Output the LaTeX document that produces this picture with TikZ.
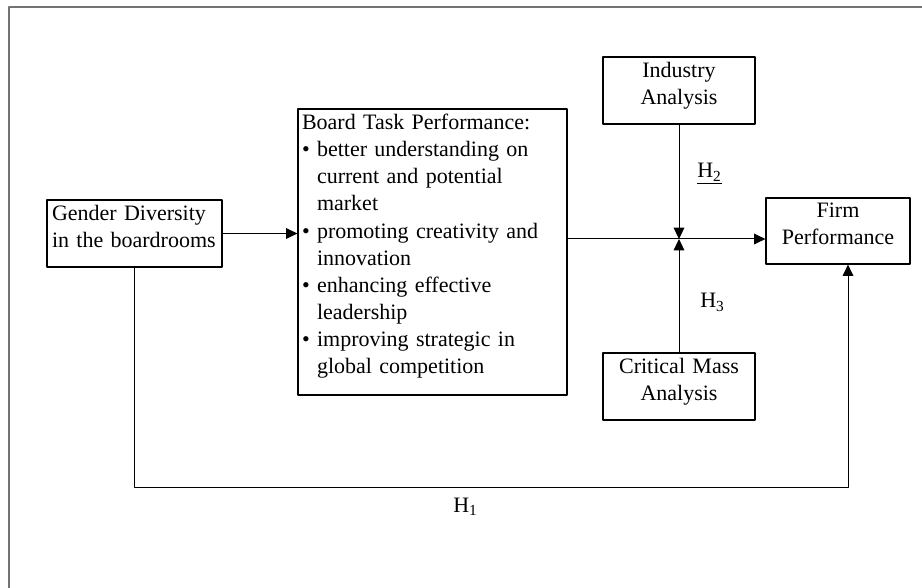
\documentclass[tikz,border=0pt]{standalone}
\usepackage{fontspec}
\setmainfont{Liberation Serif}
\usetikzlibrary{arrows.meta}
\newcommand{\bp}{\textbullet\ }
\newcommand{\bpind}{\hphantom{\textbullet\ }}

\begin{document}
\begin{tikzpicture}[line join=round,>={Triangle[length=8.5pt,width=8pt]},x=0.75pt,y=-0.75pt]
		\tikzset{every node/.style={font=\fontsize{16.5}{20.3}\selectfont},
			box/.style={draw,line width=0.9pt,inner xsep=3.75pt,inner ysep=3pt,text depth=31pt},
			link/.style={line width=0.75pt},
			hlabel/.style={anchor=base west,inner sep=0pt}}
		\useasboundingbox (0,0) rectangle (922,588);
		\draw[black!55,line width=1.5pt] (9,600)--(9,7)--(930,7);
		%Các khối
		\node[box,align=left,text width=123.75pt,minimum height=50.25pt] (gender) at (134.5,233.5) {Gender Diversity\\in the boardrooms};
		\node[box,align=left,text width=195.75pt,inner xsep=3pt,minimum height=214.5pt,text depth=195pt] (board) at (432.5,252) {Board Task Performance:\\
			\bp better understanding on\\ \bpind current and potential\\ \bpind market\\
			\bp promoting creativity and\\ \bpind innovation\\
			\bp enhancing effective\\ \bpind leadership\\
			\bp improving strategic in\\ \bpind global competition};
		\node[box,align=center,text width=106.5pt,minimum height=50.25pt] (industry) at (679,90.5) {Industry\\Analysis};
		\node[box,align=center,text width=106.5pt,minimum height=50.25pt] (critical) at (679,386.5) {Critical Mass\\Analysis};
		\node[box,align=center,text width=100.5pt,minimum height=49.5pt] (firm) at (838,231) {Firm\\Performance};
		\coordinate (j) at (679,239);
		\coordinate (hcorner) at (848,487);
		%Các mũi tên
		\draw[link,->] (gender.east) -- (gender.east -| board.west);
		\draw[link,->] (board.east |- j) -- (firm.west |- j);
		\draw[link,->] (industry) -- (j);
		\draw[link,->] (critical) -- (j);
		\draw[link,->] (gender.south) |- (hcorner) -- (hcorner |- firm.south);
		\node[hlabel] (htwo) at (697,178) {\underline{H\textsubscript{2}}};
		\node[hlabel] (hthree) at (700,308) {H\textsubscript{3}};
		\node[hlabel] (hone) at (453,512) {H\textsubscript{1}};
\end{tikzpicture}
\end{document}
